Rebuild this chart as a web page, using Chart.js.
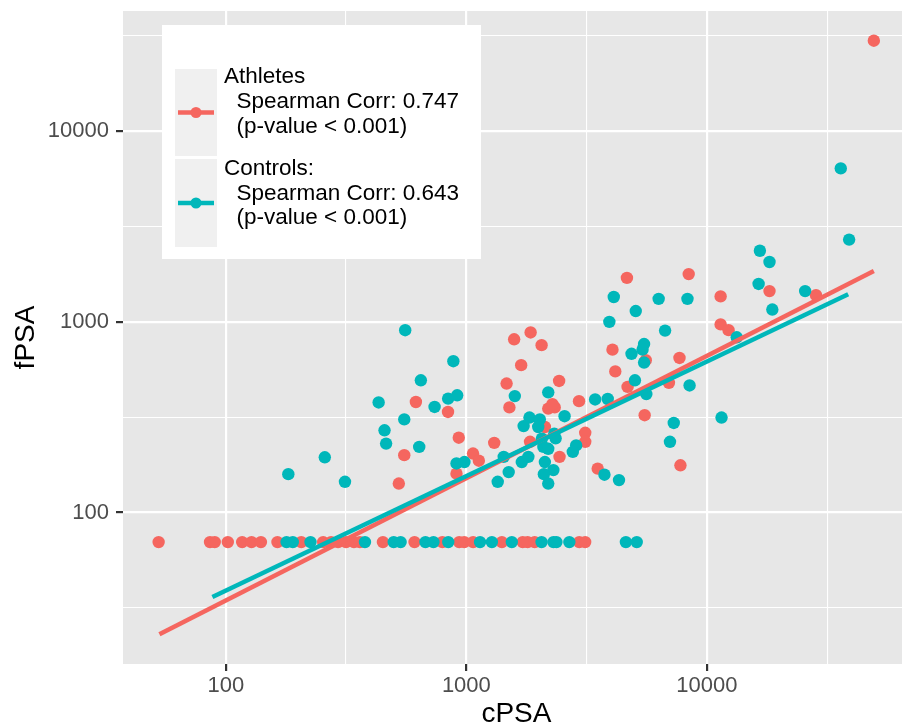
<!DOCTYPE html>
<html>
<head>
<meta charset="utf-8">
<title>cPSA vs fPSA</title>
<script src="https://cdn.jsdelivr.net/npm/chart.js@4.4.1/dist/chart.umd.min.js"></script>
<style>
  html, body { margin: 0; padding: 0; background: #fff; overflow: hidden; }
  #wrap { width: 916px; height: 728px; }
</style>
</head>
<body>
<div id="wrap"><canvas id="psaChart" width="916" height="728"></canvas></div>
<script>
// Athletes, points above the fPSA floor
const athleteCpsa = [49400, 4650, 8400, 18200, 28400, 11400, 11400, 12300, 4050, 5570, 7690, 4160, 4680, 6950,
  2940, 5510, 7760, 3120, 3120, 3515, 1580, 1850, 2055, 1690, 1470, 2430, 1510, 839, 2190, 2330, 2280, 2120,
  930, 1306, 1066, 1127, 910, 1840, 2440, 617, 552, 524];
const athleteFpsa = [29800, 1700, 1780, 1450, 1380, 1360, 970, 905, 715, 630, 647, 550, 456, 479,
  384, 324, 177, 262, 235, 170, 810, 880, 755, 593, 475, 490, 356, 337, 351, 356, 370, 281,
  247, 232, 204, 187, 160, 235, 196, 380, 200, 142];

// Controls, points above the fPSA floor
const controlCpsa = [36000, 39000, 16600, 18200, 16400, 25600, 4100, 6300, 8300, 18700, 13300, 11500, 5060, 3930,
  6700, 5480, 5400, 4860, 5480, 5020, 8470, 5600, 3430, 3870, 7280, 7020, 2860, 2770, 3750, 4310,
  883, 1590, 2190, 738, 840, 916, 2560, 1730, 1830, 2020, 1990, 2320, 2350, 2090, 2190, 2060,
  910, 982, 1430, 1500, 1350, 1700, 1810, 2120, 2300, 2100, 2190, 557, 647, 432, 552, 457, 464, 637, 258, 182, 313];
const controlFpsa = [6380, 2700, 2360, 2060, 1580, 1450, 1350, 1320, 1320, 1160, 830, 315, 1140, 1000,
  900, 765, 715, 680, 612, 494, 464, 418, 392, 394, 295, 235, 225, 208, 158, 148,
  622, 408, 427, 358, 396, 412, 320, 284, 315, 308, 281, 259, 245, 221, 216, 244,
  181, 184, 196, 163, 145, 184, 196, 184, 167, 159, 142, 904, 494, 378, 308, 270, 230, 221, 195, 159, 145];

// samples sitting on the fPSA floor
const FPSA_FLOOR = 70;
const athleteCpsaFloor = [52.6, 86, 90, 102, 117, 128, 140, 164, 206, 254, 274, 293, 316, 341, 361, 450, 609,
  795, 934, 980, 1067, 1405, 1715, 1798, 1922, 2946, 3119];
const controlCpsaFloor = [179, 190, 225, 379, 499, 533, 676, 730, 841, 1140, 1277, 1545, 2054, 2302, 2368,
  2680, 4603, 5108];

// fitted lines (log-log)
const athleteFitX = [53, 49400];
const athleteFitY = [23, 1850];
const controlFitX = [88, 38650];
const controlFitY = [36.1, 1397];

// axis ticks
const xMajorTicks = [100, 1000, 10000];
const xMinorTicks = [316.2, 3162, 31623];
const yMajorTicks = [100, 1000, 10000];
const yMinorTicks = [31.62, 316.2, 3162, 31623];

const legendLines = [
  ['Athletes', '  Spearman Corr: 0.747', '  (p-value < 0.001)'],
  ['Controls:', '  Spearman Corr: 0.643', '  (p-value < 0.001)']
];

const RED = '#F5665F';
const TEAL = '#00B7BA';
const FONT = '"Liberation Sans", Arial, Helvetica, sans-serif';

const toPoints = (xs, ys) => xs.map((x, i) => ({ x, y: ys[i] }));
const floorPoints = xs => xs.map(x => ({ x, y: FPSA_FLOOR }));

const isMajor = (tick, majors) => tick && majors.some(m => Math.abs(m - tick.value) < 1e-6 * m);

// gray panel behind the grid
const panelBg = {
  id: 'panelBg',
  beforeDraw(chart) {
    const { ctx, chartArea: a } = chart;
    ctx.save();
    ctx.fillStyle = '#E7E7E7';
    ctx.fillRect(a.left, a.top, a.right - a.left, a.bottom - a.top);
    ctx.restore();
  }
};

// ggplot-style legend inside the panel
const legendBox = {
  id: 'legendBox',
  afterDraw(chart) {
    const ctx = chart.ctx;
    const keyTops = [69, 159];
    const keyHeights = [87, 88];
    const keyColors = [RED, TEAL];
    const baselines = [[83, 108, 133], [175, 199.5, 224]];
    ctx.save();
    ctx.fillStyle = '#FFFFFF';
    ctx.fillRect(162, 25, 319, 234);
    legendLines.forEach((lines, i) => {
      ctx.fillStyle = '#F0F0F0';
      ctx.fillRect(175, keyTops[i], 42, keyHeights[i]);
      const cy = keyTops[i] + keyHeights[i] / 2;
      ctx.strokeStyle = keyColors[i];
      ctx.lineWidth = 4.5;
      ctx.beginPath();
      ctx.moveTo(178, cy);
      ctx.lineTo(214, cy);
      ctx.stroke();
      ctx.fillStyle = keyColors[i];
      ctx.beginPath();
      ctx.arc(196, cy, 5.5, 0, Math.PI * 2);
      ctx.fill();
      ctx.fillStyle = '#000000';
      ctx.font = '22.5px ' + FONT;
      ctx.textBaseline = 'alphabetic';
      ctx.textAlign = 'left';
      lines.forEach((t, j) => ctx.fillText(t, 224, baselines[i][j]));
    });
    ctx.restore();
  }
};

function axisGrid(majors) {
  return {
    color: '#FFFFFF',
    lineWidth: c => isMajor(c.tick, majors) ? 2.2 : 1.1,
    tickColor: c => isMajor(c.tick, majors) ? '#333333' : 'rgba(0,0,0,0)',
    tickWidth: 2.2,
    tickLength: 7,
    drawTicks: true
  };
}

const ctx = document.getElementById('psaChart').getContext('2d');
new Chart(ctx, {
  type: 'scatter',
  data: {
    datasets: [
      {
        label: 'Athletes',
        data: toPoints(athleteCpsa, athleteFpsa).concat(floorPoints(athleteCpsaFloor)),
        backgroundColor: RED,
        borderColor: RED,
        borderWidth: 0,
        pointRadius: 6.2,
        order: 4
      },
      {
        label: 'Controls',
        data: toPoints(controlCpsa, controlFpsa).concat(floorPoints(controlCpsaFloor)),
        backgroundColor: TEAL,
        borderColor: TEAL,
        borderWidth: 0,
        pointRadius: 6.2,
        order: 3
      },
      {
        label: 'Athletes fit',
        data: toPoints(athleteFitX, athleteFitY),
        showLine: true,
        borderColor: RED,
        borderWidth: 4.5,
        pointRadius: 0,
        order: 2
      },
      {
        label: 'Controls fit',
        data: toPoints(controlFitX, controlFitY),
        showLine: true,
        borderColor: TEAL,
        borderWidth: 4.5,
        pointRadius: 0,
        order: 1
      }
    ]
  },
  options: {
    responsive: false,
    animation: false,
    devicePixelRatio: 1,
    layout: { padding: { top: 11, left: 0, right: 0, bottom: 0 } },
    plugins: {
      legend: { display: false },
      tooltip: { enabled: false }
    },
    scales: {
      x: {
        type: 'logarithmic',
        min: 37.4,
        max: 69700,
        afterBuildTicks: s => { s.ticks = xMajorTicks.concat(xMinorTicks).sort((a, b) => a - b).map(v => ({ value: v })); },
        afterFit: s => { s.height = 64; s.paddingLeft = 0; s.paddingRight = 0; },
        grid: axisGrid(xMajorTicks),
        border: { display: false },
        ticks: {
          autoSkip: false,
          maxRotation: 0,
          padding: 2,
          color: '#4D4D4D',
          font: { size: 22, family: FONT },
          callback: v => xMajorTicks.includes(v) ? String(v) : ''
        },
        title: {
          display: true,
          text: 'cPSA',
          color: '#000000',
          font: { size: 28, family: FONT, lineHeight: 1 },
          padding: { top: 0, bottom: 0 }
        }
      },
      y: {
        type: 'logarithmic',
        min: 16.07,
        max: 42660,
        afterBuildTicks: s => { s.ticks = yMajorTicks.concat(yMinorTicks).sort((a, b) => a - b).map(v => ({ value: v })); },
        afterFit: s => { s.width = 123; s.paddingTop = 0; s.paddingBottom = 0; },
        grid: axisGrid(yMajorTicks),
        border: { display: false },
        ticks: {
          autoSkip: false,
          padding: 7,
          color: '#4D4D4D',
          font: { size: 22, family: FONT },
          callback: v => yMajorTicks.includes(v) ? String(v) : ''
        },
        title: {
          display: true,
          text: 'fPSA',
          color: '#000000',
          font: { size: 28, family: FONT, lineHeight: 1 },
          padding: { top: 12, bottom: 0 }
        }
      }
    }
  },
  plugins: [panelBg, legendBox]
});
</script>
</body>
</html>
